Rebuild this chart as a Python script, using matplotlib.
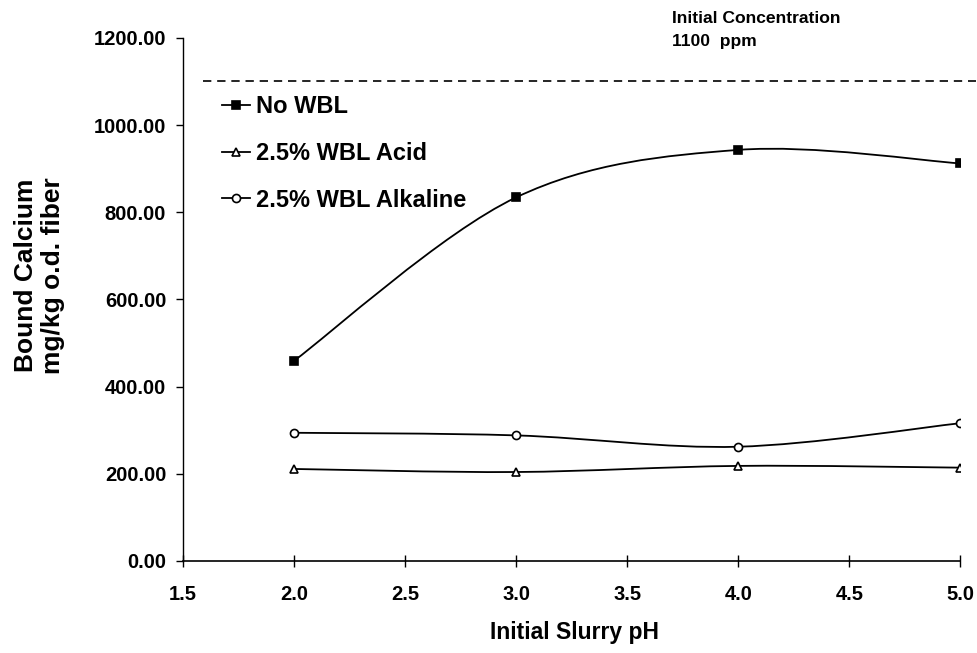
import matplotlib
matplotlib.use("Agg")
import matplotlib.pyplot as plt
from matplotlib.path import Path
from matplotlib.patches import PathPatch
from matplotlib.lines import Line2D
from matplotlib.ticker import FixedLocator, FormatStrFormatter

plt.rcParams['font.family'] = ['Liberation Sans', 'DejaVu Sans']
plt.rcParams['font.weight'] = 'bold'

# データ
ph = [2.0, 3.0, 4.0, 5.0]
no_wbl = [459, 834, 943, 912]
wbl_acid = [211, 204, 218, 214]
wbl_alkaline = [294, 288, 262, 316]
initial_conc = 1100

series_names = ["No WBL", "2.5% WBL Acid", "2.5% WBL Alkaline"]
x_ticks = [1.5, 2.0, 2.5, 3.0, 3.5, 4.0, 4.5, 5.0]
y_ticks = [0, 200, 400, 600, 800, 1000, 1200]


def smooth_path(x, y):
    """Excel風のスムージング線 (ベジェ曲線) のパスを作る"""
    pts = list(zip(x, y))
    n = len(pts)
    verts = [pts[0]]
    codes = [Path.MOVETO]
    for i in range(n - 1):
        p0 = pts[i - 1] if i > 0 else pts[i]
        p1 = pts[i]
        p2 = pts[i + 1]
        p3 = pts[i + 2] if i + 2 < n else pts[i + 1]
        c1 = (p1[0] + (p2[0] - p0[0]) / 6, p1[1] + (p2[1] - p0[1]) / 6)
        c2 = (p2[0] - (p3[0] - p1[0]) / 6, p2[1] - (p3[1] - p1[1]) / 6)
        verts += [c1, c2, p2]
        codes += [Path.CURVE4] * 3
    return Path(verts, codes)


fig = plt.figure(figsize=(9.78, 6.53), dpi=100)
ax = fig.add_axes([0.187, 0.141, 0.795, 0.801])

styles = [
    dict(marker='s', mfc='black', ms=5.8),
    dict(marker='^', mfc='white', ms=5.8),
    dict(marker='o', mfc='white', ms=5.8),
]
handles = []
for vals, name, st in zip([no_wbl, wbl_acid, wbl_alkaline], series_names, styles):
    ax.add_patch(PathPatch(smooth_path(ph, vals), fill=False, edgecolor='black', lw=1.3, zorder=2))
    ax.plot(ph, vals, linestyle='none', color='black', mec='black', mew=1.2, zorder=3, **st)
    handles.append(Line2D([], [], color='black', lw=1.3, mec='black', mew=1.2, label=name, **st))

# 初期濃度の破線
ax.plot([1.59, 5.07], [initial_conc, initial_conc], color='black', lw=1.2,
        linestyle=(0, (5, 3.5)), clip_on=False)
fig.text(0.687, 0.954, "Initial Concentration\n1100  ppm", fontsize=12.6,
         fontweight='bold', va='center', ha='left', linespacing=1.6)

ax.set_xlim(1.5, 5.0)
ax.set_ylim(0, 1200)
ax.xaxis.set_major_locator(FixedLocator(x_ticks))
ax.yaxis.set_major_locator(FixedLocator(y_ticks))
ax.xaxis.set_major_formatter(FormatStrFormatter('%.1f'))
ax.yaxis.set_major_formatter(FormatStrFormatter('%.2f'))
ax.spines['top'].set_visible(False)
ax.spines['right'].set_visible(False)
ax.spines['left'].set_linewidth(1.0)
ax.spines['bottom'].set_linewidth(1.2)
ax.tick_params(axis='x', direction='inout', length=9, width=1.0, pad=13, labelsize=14.5)
ax.tick_params(axis='y', direction='out', length=5, width=1.0, pad=7, labelsize=14.5)
for lab in ax.get_xticklabels() + ax.get_yticklabels():
    lab.set_fontweight('bold')

fig.text(0.587, 0.032, "Initial Slurry pH", fontsize=16.5, fontweight='bold', ha='center', va='center')
fig.text(0.040, 0.578, "Bound Calcium\nmg/kg o.d. fiber", fontsize=19, fontweight='bold',
         rotation=90, ha='center', va='center', linespacing=1.15)

leg = ax.legend(handles=handles, loc='upper left', bbox_to_anchor=(0.038, 0.908),
                frameon=False, fontsize=17, handlelength=1.2, handletextpad=0.25,
                labelspacing=1.0, borderaxespad=0)
for t in leg.get_texts():
    t.set_fontweight('bold')

fig.savefig("out.png", dpi=100)
